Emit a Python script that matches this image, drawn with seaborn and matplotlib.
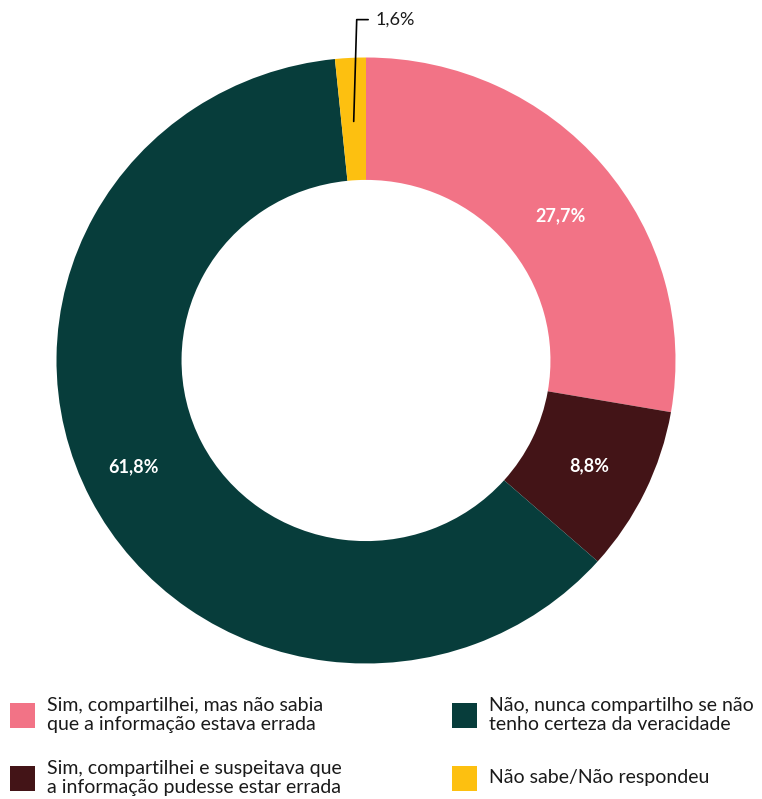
import numpy as np
import matplotlib
matplotlib.use("Agg")
import matplotlib.pyplot as plt
import seaborn as sns
from matplotlib.patches import Rectangle

# dados do gráfico
categorias = [
    "Sim, compartilhei, mas não sabia\nque a informação estava errada",
    "Sim, compartilhei e suspeitava que\na informação pudesse estar errada",
    "Não, nunca compartilho se não\ntenho certeza da veracidade",
    "Não sabe/Não respondeu",
]
valores = [27.7, 8.8, 61.8, 1.6]
rotulos = ["27,7%", "8,8%", "61,8%", "1,6%"]
cores = ["#F27386", "#431417", "#073D3B", "#FDC010"]

sns.set_theme(style="white")
plt.rcParams["font.family"] = ["Lato", "DejaVu Sans"]

W, H = 762, 799
fig = plt.figure(figsize=(W / 100, H / 100), dpi=100)
cx, cy, rx, ry = 366, 360.5, 309.5, 303
ax = fig.add_axes([(cx - rx) / W, (H - cy - ry) / H, 2 * rx / W, 2 * ry / H])

wedges, _ = ax.pie(
    valores, colors=cores, startangle=90, counterclock=False,
    wedgeprops=dict(width=0.404, linewidth=0),
)
ax.set_xlim(-1, 1)
ax.set_ylim(-1, 1)
ax.set_aspect("auto")
ax.axis("off")

# rótulos dentro do anel (pequenos ajustes de ângulo/raio)
for w, txt, d, da in zip(wedges[:3], rotulos[:3], [0.79, 0.8, 0.83], [-3, 0, -2]):
    ang = np.deg2rad((w.theta1 + w.theta2) / 2 + da)
    ax.text(d * np.cos(ang), d * np.sin(ang), txt, ha="center", va="center",
            color="white", fontsize=13, fontweight="bold")

# linha de chamada para a fatia pequena
w = wedges[3]
ang = np.deg2rad((w.theta1 + w.theta2) / 2)
x0, y0 = 0.79 * np.cos(ang), 0.79 * np.sin(ang)
ax.plot([x0, -0.03, 0.007], [y0, 1.125, 1.125], color="black", lw=1.2, clip_on=False)
ax.text(0.03, 1.125, rotulos[3], ha="left", va="center", fontsize=13, color="#1a1a1a")

# legenda manual
pos = [(10, 715), (10, 778), (452, 715), (452, 778)]
for (lx, ly), cor, cat in zip(pos, cores, categorias):
    fig.add_artist(Rectangle((lx / W, (H - ly - 12.5) / H), 25 / W, 25 / H,
                             facecolor=cor, edgecolor="none", transform=fig.transFigure))
    fig.text((lx + 37) / W, (H - ly) / H, cat, ha="left", va="center",
             fontsize=14, color="#1a1a1a", linespacing=1.15)

fig.savefig("out.png", dpi=100)
